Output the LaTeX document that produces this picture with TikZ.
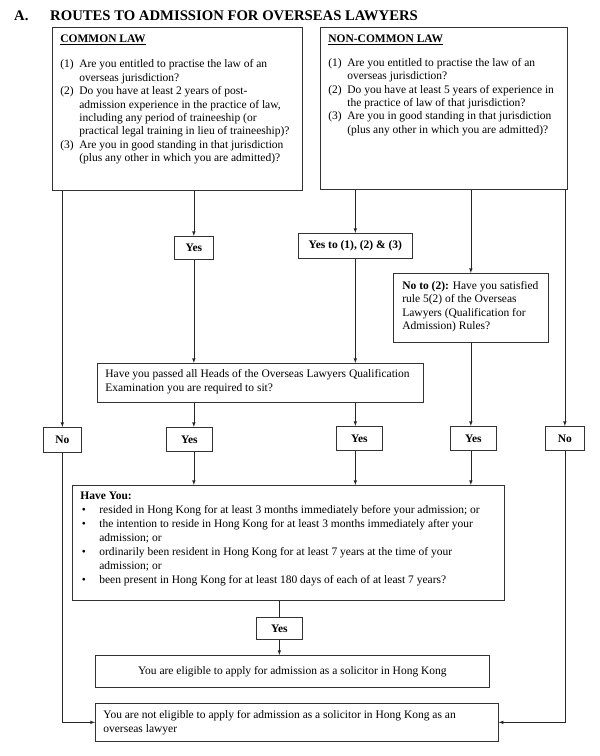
\documentclass[tikz,border=0pt]{standalone}
\usepackage{fontspec}
\setmainfont{Liberation Serif}
\tikzset{>=latex}
\tikzset{
  title/.style={font=\fontsize{14.7}{16}\selectfont\bfseries,inner sep=0pt},
  box/.style={draw=black!80,line width=0.7pt,anchor=north west,align=left,
    font=\fontsize{11.5}{13.4}\selectfont},
  tag/.style={box,align=center,inner sep=0pt,font=\fontsize{11.5}{13.4}\selectfont\bfseries},
  conn/.style={->,draw=black!85,line width=0.6pt},
  link/.style={draw=black!85,line width=0.6pt},
}
\newcommand{\boxtext}[3]{\parbox[c][#2][t]{#1}{\raggedright\parskip=0pt #3}} % top aligned text
\newcommand{\qitem}[1]{\par\hangindent=19pt\hangafter=1\noindent\makebox[19pt][l]{#1}} % hanging item
\begin{document}
\begin{tikzpicture}[x=1pt,y=-1pt]
  \useasboundingbox (0,0) rectangle (600,756); % page
  \node[title,anchor=base west] (sec) at (14,20.7) {A.};
  \node[title,anchor=base west] (head) at (50,20.7) {ROUTES TO ADMISSION FOR OVERSEAS LAWYERS};
  % starting questions
  \node[box,inner xsep=8pt,inner ysep=8pt] (cl) at (52,27) {\boxtext{234pt}{147pt}{%
    \underline{\textbf{COMMON LAW}}\par\vspace{11.5pt}
    \qitem{(1)}Are you entitled to practise the law of an\newline overseas jurisdiction?
    \qitem{(2)}Do you have at least 2 years of post-\newline admission experience in the practice of law,\newline including any period of traineeship (or\newline practical legal training in lieu of traineeship)?
    \qitem{(3)}Are you in good standing in that jurisdiction\newline (plus any other in which you are admitted)?}};
  \node[box,inner xsep=8pt,inner ysep=8pt] (ncl) at (320,27) {\boxtext{231pt}{146pt}{%
    \underline{\textbf{NON-COMMON LAW}}\par\vspace{10pt}
    \qitem{(1)}Are you entitled to practise the law of an\newline overseas jurisdiction?
    \qitem{(2)}Do you have at least 5 years of experience in\newline the practice of law of that jurisdiction?
    \qitem{(3)}Are you in good standing in that jurisdiction\newline (plus any other in which you are admitted)?}};
  % first answers
  \node[tag,minimum width=39,minimum height=23] (yes1) at (174,236) {Yes};
  \node[tag,minimum width=114,minimum height=25] (yes123) at (298,233) {Yes to (1), (2) \& (3)};
  \node[box,inner xsep=9pt,inner ysep=8pt] (nosat) at (393,273) {\boxtext{137pt}{53pt}{%
    \textbf{No to (2):} Have you satisfied\newline rule 5(2) of the Overseas\newline Lawyers (Qualification for\newline Admission) Rules?}};
  % exam
  \node[box,inner xsep=8pt,inner ysep=6.5pt] (exam) at (97,363) {\boxtext{310pt}{26pt}{%
    Have you passed all Heads of the Overseas Lawyers Qualification\newline Examination you are required to sit?}};
  % second answers
  \node[tag,minimum width=38,minimum height=25] (no1) at (43,427) {No};
  \node[tag,minimum width=46,minimum height=24] (yes2) at (166,427) {Yes};
  \node[tag,minimum width=46,minimum height=24] (yes3) at (336,426) {Yes};
  \node[tag,minimum width=46,minimum height=24] (yes4) at (450,426) {Yes};
  \node[tag,minimum width=39,minimum height=24] (no5) at (545,426) {No};
  % residence
  \node[box,inner xsep=8pt,inner ysep=7pt] (have) at (72,485) {\boxtext{416pt}{101pt}{%
    \fontsize{11.5}{14}\selectfont
    \textbf{Have You:}
    \qitem{\hspace{1.5pt}\textbullet}resided in Hong Kong for at least 3 months immediately before your admission; or
    \qitem{\hspace{1.5pt}\textbullet}the intention to reside in Hong Kong for at least 3 months immediately after your\newline admission; or
    \qitem{\hspace{1.5pt}\textbullet}ordinarily been resident in Hong Kong for at least 7 years at the time of your\newline admission; or
    \qitem{\hspace{1.5pt}\textbullet}been present in Hong Kong for at least 180 days of each of at least 7 years?}};
  \node[tag,minimum width=46,minimum height=22] (yes6) at (256,617) {Yes};
  % outcomes
  \node[box,align=center,minimum width=394,minimum height=32] (elig) at (95,655)
    {You are eligible to apply for admission as a solicitor in Hong Kong};
  \node[box,inner xsep=8pt,inner ysep=7.5pt] (notelig) at (95,703) {\boxtext{387pt}{23pt}{%
    You are not eligible to apply for admission as a solicitor in Hong Kong as an\newline overseas lawyer}};
  % connectors
  \draw[conn] (cl.south -| no1.north) -- (no1.north);
  \draw[conn] (cl.south -| yes1.north) -- (yes1.north);
  \draw[conn] (yes1.south) -- (yes1.south |- exam.north);
  \draw[conn] (ncl.south -| yes123.north) -- (yes123.north);
  \draw[conn] (yes123.south) -- (yes123.south |- exam.north);
  \draw[conn] (ncl.south -| nosat.north) -- (nosat.north);
  \draw[conn] (ncl.south -| no5.north) -- (no5.north);
  \draw[conn] (exam.south -| yes1.south) -- (yes1.south |- yes2.north);
  \draw[conn] (exam.south -| yes123.south) -- (yes123.south |- yes3.north);
  \draw[conn] (nosat.south) -- (nosat.south |- yes4.north);
  \draw[conn] (yes2.south -| yes1.south) -- (yes1.south |- have.north);
  \draw[conn] (yes3.south -| yes123.south) -- (yes123.south |- have.north);
  \draw[conn] (yes4.south -| nosat.south) -- (nosat.south |- have.north);
  \draw[link] (have.south -| yes6.north) -- (yes6.north);
  \draw[conn] (yes6.south) -- (yes6.south |- elig.north);
  \draw[conn] (no1.south) |- (notelig.west);
  \draw[conn] (no5.south) |- (notelig.east);
\end{tikzpicture}
\end{document}
